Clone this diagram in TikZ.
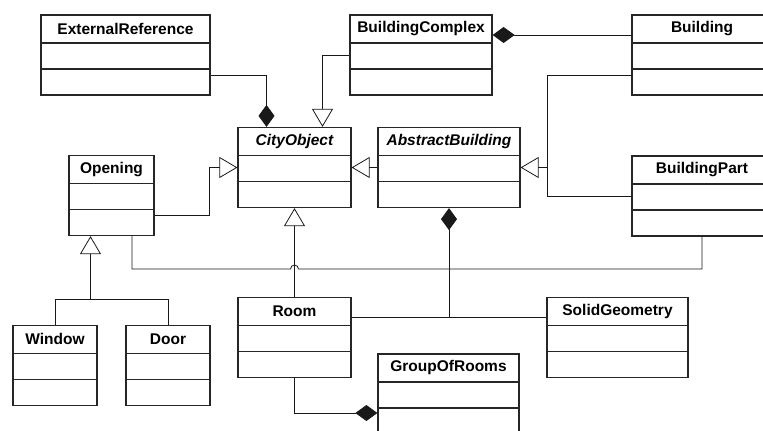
\documentclass[tikz,border=0pt]{standalone}
\usepackage{fontspec}
\setmainfont{Liberation Sans}
\usetikzlibrary{arrows.meta,calc}
\tikzset{
  cls/.style={draw=black!85, line width=1.2pt},
  ctitle/.style={font=\fontsize{15.5}{18}\selectfont\bfseries, inner sep=0pt},
  line/.style={draw=black!90, line width=0.8pt},
  inh/.style={line, -{Triangle[length=18pt, width=21pt, fill=white]}},
  comp/.style={line, -{Diamond[length=22pt, width=16pt]}}
}
\begin{document}
\begin{tikzpicture}[x=1pt, y=-1pt, line join=miter]
  \clip (0,0) rectangle (763,431);
  % classes
  \foreach \nm/\pos/\w/\txt in {er/{125.5,55}/169/ExternalReference,
      bc/{421,55}/142/BuildingComplex, bd/{702,55}/140/Building,
      co/{294.5,167.5}/113/\itshape CityObject, ab/{449,167.5}/142/\itshape AbstractBuilding,
      op/{111.5,195.5}/85/Opening, bp/{702,196}/140/BuildingPart,
      win/{55,365.5}/84/Window, door/{168,365.5}/84/Door,
      room/{294.5,337.5}/113/Room, sg/{617.5,337.5}/141/SolidGeometry,
      gor/{448.5,394}/141/GroupOfRooms}
  {
    \node[cls, minimum width=\w pt, minimum height=80pt, inner sep=0pt] (\nm) at (\pos) {};
    \node[ctitle] at ([yshift=-14.5pt]\nm.north) {\txt};
    \draw[cls] ([yshift=-28.5pt]\nm.north west) -- ([yshift=-28.5pt]\nm.north east);
    \draw[cls] ([yshift=-54.5pt]\nm.north west) -- ([yshift=-54.5pt]\nm.north east);
  }
  % helper points
  \coordinate (fork) at ([xshift=-21pt, yshift=-63pt]op.south);
  \coordinate (hop) at (294.5,269);
  \coordinate (rs) at ([yshift=20.5pt]room.east);
  % connectors
  \draw[comp] ([yshift=-20pt]er.east) -| ([xshift=-28pt]co.north);
  \draw[inh] (bc.west) -| ([xshift=28pt]co.north);
  \draw[comp] ([yshift=20pt]bd.west) -- ([yshift=20pt]bc.east);
  \draw[inh] ([yshift=-20pt]bd.west) -| ([xshift=27pt]ab.east) -- (ab.east);
  \draw[line] (bp.west) -| ([xshift=27pt]ab.east);
  \draw[inh] (ab.west) -- (co.east);
  \draw[inh] ([yshift=-20pt]op.east) -| ([xshift=-28pt]co.west) -- (co.west);
  \draw[line] (win.north) |- (fork) -| (door.north);
  \draw[inh] (fork) -- ([xshift=-21pt]op.south);
  \draw[inh] (room.north) -- (co.south);
  \draw[line] ([xshift=20.5pt]op.south) |- ([xshift=-4pt]hop)
    arc[start angle=180, end angle=0, radius=4pt] -- (hop -| bp.south) -- (bp.south);
  \draw[line] (rs) -- (rs -| sg.west);
  \draw[comp] (rs -| ab.south) -- (ab.south);
  \draw[comp] (room.south) |- ([yshift=-19pt]gor.west);
\end{tikzpicture}
\end{document}
